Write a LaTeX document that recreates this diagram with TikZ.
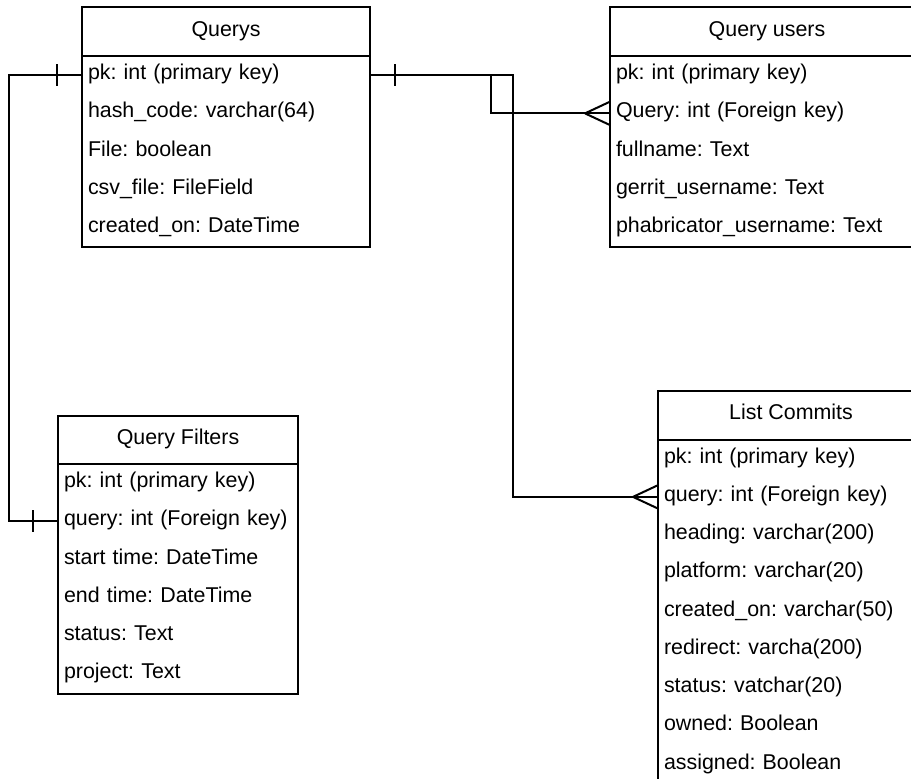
\documentclass[tikz,border=0pt]{standalone}
\usepackage{fontspec}
\setmainfont{Liberation Sans}
\frenchspacing
\begin{document}
\begin{tikzpicture}[x=1pt,y=-1pt,
  font=\fontsize{21.4}{25}\selectfont\frenchspacing,
  tablebox/.style={draw, line width=2pt, anchor=north west, inner sep=0pt, outer sep=0pt},
  tabletitle/.style={anchor=center, inner sep=0pt, text height=14pt, text depth=5pt},
  row/.style={anchor=north west, inner xsep=6pt, inner ysep=0pt, minimum height=38.25pt,
              text height=14pt, text depth=5pt, align=left, outer sep=0pt, text width=#1},
  divider/.style={line width=2pt},
  conn/.style={line width=2pt},
]
\useasboundingbox (0,0) rectangle (911,779);
\begin{scope}
\clip (0,0) rectangle (911,779);

% ---------- Querys ----------
\node[tablebox, minimum width=288pt, minimum height=240pt] (querys) at (82,7) {};
\node[tabletitle] (querys-title) at (226,31.5) {Querys};
\node[row=276pt] (querys-1) at (82,56) {pk: int (primary key)};
\node[row=276pt] (querys-2) at (querys-1.south west) {hash\_code: varchar(64)};
\node[row=276pt] (querys-3) at (querys-2.south west) {File: boolean};
\node[row=276pt] (querys-4) at (querys-3.south west) {csv\_file: FileField};
\node[row=276pt] (querys-5) at (querys-4.south west) {created\_on: DateTime};
\draw[divider] (querys-1.north west) -- (querys-1.north east);

% ---------- Query users ----------
\node[tablebox, minimum width=314pt, minimum height=240pt] (users) at (610,7) {};
\node[tabletitle] (users-title) at (767,31.5) {Query users};
\node[row=302pt] (users-1) at (610,56) {pk: int (primary key)};
\node[row=302pt] (users-2) at (users-1.south west) {Query: int (Foreign key)};
\node[row=302pt] (users-3) at (users-2.south west) {fullname: Text};
\node[row=302pt] (users-4) at (users-3.south west) {gerrit\_username: Text};
\node[row=302pt] (users-5) at (users-4.south west) {phabricator\_username: Text};
\draw[divider] (users-1.north west) -- (users-1.north east);

% ---------- Query Filters ----------
\node[tablebox, minimum width=240pt, minimum height=278pt] (filters) at (58,416) {};
\node[tabletitle] (filters-title) at (178,440) {Query Filters};
\node[row=228pt] (filters-1) at (58,464) {pk: int (primary key)};
\node[row=228pt] (filters-2) at (filters-1.south west) {query: int (Foreign key)};
\node[row=228pt] (filters-3) at (filters-2.south west) {start time: DateTime};
\node[row=228pt] (filters-4) at (filters-3.south west) {end time: DateTime};
\node[row=228pt] (filters-5) at (filters-4.south west) {status: Text};
\node[row=228pt] (filters-6) at (filters-5.south west) {project: Text};
\draw[divider] (filters-1.north west) -- (filters-1.north east);

% ---------- List Commits ----------
\node[tablebox, minimum width=266pt, minimum height=393pt] (commits) at (658,391) {};
\node[tabletitle] (commits-title) at (791,415) {List Commits};
\node[row=254pt] (commits-1) at (658,439.5) {pk: int (primary key)};
\node[row=254pt] (commits-2) at (commits-1.south west) {query: int (Foreign key)};
\node[row=254pt] (commits-3) at (commits-2.south west) {heading: varchar(200)};
\node[row=254pt] (commits-4) at (commits-3.south west) {platform: varchar(20)};
\node[row=254pt] (commits-5) at (commits-4.south west) {created\_on: varchar(50)};
\node[row=254pt] (commits-6) at (commits-5.south west) {redirect: varcha(200)};
\node[row=254pt] (commits-7) at (commits-6.south west) {status: vatchar(20)};
\node[row=254pt] (commits-8) at (commits-7.south west) {owned: Boolean};
\node[row=254pt] (commits-9) at (commits-8.south west) {assigned: Boolean};
\draw[divider] (commits-1.north west) -- (commits-1.north east);

% ---------- Connectors ----------
% Querys -> Query Filters (one to one)
\draw[conn] (querys-1.west) -- ++(-73,0) |- (filters-2.west);
\draw[conn] ([xshift=-25pt]querys-1.west) ++(0,-11) -- ++(0,22);
\draw[conn] ([xshift=-25pt]filters-2.west) ++(0,-11) -- ++(0,22);

% Querys -> Query users (one to many)
\draw[conn] (querys-1.east) -- ++(121,0) |- (users-2.west);
\draw[conn] ([xshift=25pt]querys-1.east) ++(0,-11) -- ++(0,22);
\draw[conn] ([xshift=-25pt]users-2.west) -- ([yshift=11.7pt]users-2.west);
\draw[conn] ([xshift=-25pt]users-2.west) -- ([yshift=-11.7pt]users-2.west);

% Querys -> List Commits (one to many)
\draw[conn] (querys-1.east) -- ++(143,0) |- (commits-2.west);
\draw[conn] ([xshift=-25pt]commits-2.west) -- ([yshift=11.7pt]commits-2.west);
\draw[conn] ([xshift=-25pt]commits-2.west) -- ([yshift=-11.7pt]commits-2.west);
\end{scope}
\end{tikzpicture}
\end{document}
